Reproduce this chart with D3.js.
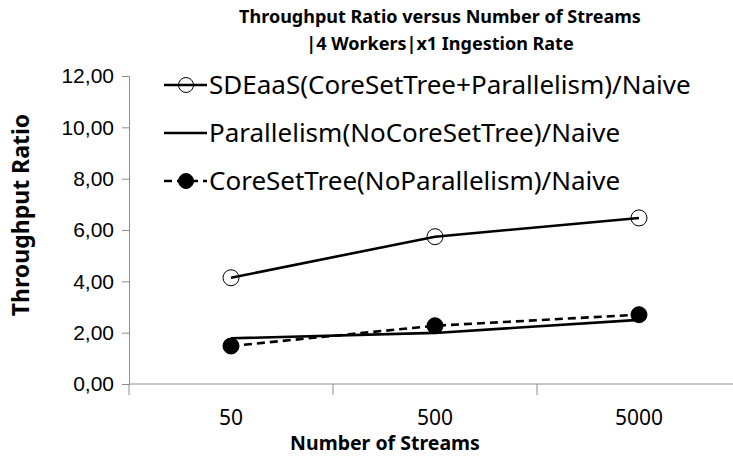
<!DOCTYPE html>
<html>
<head>
<meta charset="utf-8">
<script src="https://cdn.jsdelivr.net/npm/d3@7"></script>
<style>
  body { margin: 0; background: #fff; }
  svg { font-family: "Noto Sans", sans-serif; }
</style>
</head>
<body>
<svg></svg>
<script>
// chart values
const categories = ['50', '500', '5000'];
const sdeaas = [4.14, 5.74, 6.47];
const parallelism = [1.78, 1.99, 2.50];
const coreset = [1.48, 2.27, 2.70];
const yTicks = [0, 2, 4, 6, 8, 10, 12];
const seriesNames = ['SDEaaS(CoreSetTree+Parallelism)/Naive', 'Parallelism(NoCoreSetTree)/Naive', 'CoreSetTree(NoParallelism)/Naive'];

function Graph(){
    const width = 733;
    const height = 460;
    const left = 129, right = 741, top = 76, bottom = 384;

    let svg = d3.select('svg')
        .attr('width', width)
        .attr('height', height);

    let xScale = d3.scaleBand()
        .domain(categories)
        .range([left, right]);

    let yScale = d3.scaleLinear()
        .domain([0, 12])
        .range([bottom, top]);

    let fmt = d => d3.format('.2f')(d).replace('.', ',');

    // y axis
    let yAxis = d3.axisLeft(yScale).tickValues(yTicks).tickFormat(fmt).tickSizeOuter(0).tickSize(7).tickPadding(8);
    let gy = svg.append('g')
        .attr('transform', 'translate(' + left + ',0)')
        .call(yAxis);
    gy.select('.domain').attr('stroke', '#8c8c8c');
    gy.selectAll('.tick line').attr('stroke', '#8c8c8c');
    gy.selectAll('.tick text').attr('font-size', 21).attr('fill', '#000');

    // x axis with tick marks at band edges
    let gx = svg.append('g')
        .attr('transform', 'translate(0,' + bottom + ')');
    gx.append('line')
        .attr('x1', left).attr('x2', right)
        .attr('stroke', '#8c8c8c');
    gx.selectAll('.edge')
        .data(categories)
        .enter()
        .append('line')
        .attr('x1', d => xScale(d)).attr('x2', d => xScale(d))
        .attr('y1', 0).attr('y2', 11)
        .attr('stroke', '#8c8c8c');
    gx.selectAll('.lbl')
        .data(categories)
        .enter()
        .append('text')
        .attr('x', d => xScale(d) + xScale.bandwidth() / 2)
        .attr('y', 41)
        .attr('text-anchor', 'middle')
        .attr('font-size', 21)
        .text(d => d);

    const cx = d => xScale(d) + xScale.bandwidth() / 2;
    const series = [
        { vals: sdeaas, dash: null, fill: 'none' },
        { vals: parallelism, dash: null, fill: null },
        { vals: coreset, dash: '8,5', fill: '#000' }
    ];

    let line = d3.line()
        .x((d, i) => cx(categories[i]))
        .y(d => yScale(d));

    series.forEach(s => {
        svg.append('path')
            .datum(s.vals)
            .attr('d', line)
            .attr('fill', 'none')
            .attr('stroke', '#000')
            .attr('stroke-width', 2.6)
            .attr('stroke-dasharray', s.dash);
        if (s.fill) {
            svg.selectAll(null)
                .data(s.vals)
                .enter()
                .append('circle')
                .attr('cx', (d, i) => cx(categories[i]))
                .attr('cy', d => yScale(d))
                .attr('r', 8)
                .attr('fill', s.fill)
                .attr('stroke', '#000')
                .attr('stroke-width', 1);
        }
    });

    // legend
    let legend = svg.append('g');
    series.forEach((s, i) => {
        let y = 85 + i * 48;
        legend.append('line')
            .attr('x1', 164).attr('x2', 207)
            .attr('y1', y).attr('y2', y)
            .attr('stroke', '#000')
            .attr('stroke-width', 2.6)
            .attr('stroke-dasharray', s.dash);
        if (s.fill) {
            legend.append('circle')
                .attr('cx', 186).attr('cy', y).attr('r', 7.5)
                .attr('fill', s.fill).attr('stroke', '#000').attr('stroke-width', 1);
        }
        legend.append('text')
            .attr('x', 209).attr('y', y + 9)
            .attr('font-size', 26)
            .text(seriesNames[i]);
    });

    // titles
    svg.append('text')
        .attr('x', 440).attr('y', 23)
        .attr('text-anchor', 'middle')
        .attr('font-size', 18).attr('font-weight', 'bold')
        .text('Throughput Ratio versus Number of Streams');
    svg.append('text')
        .attr('x', 440).attr('y', 50)
        .attr('text-anchor', 'middle')
        .attr('font-size', 18).attr('font-weight', 'bold')
        .text('|4 Workers|x1 Ingestion Rate');

    svg.append('text')
        .attr('x', 385).attr('y', 450)
        .attr('text-anchor', 'middle')
        .attr('font-size', 19.5).attr('font-weight', 'bold')
        .text('Number of Streams');

    svg.append('text')
        .attr('transform', 'translate(29,215) rotate(-90)')
        .attr('text-anchor', 'middle')
        .attr('font-size', 23).attr('font-weight', 'bold')
        .text('Throughput Ratio');
}

Graph();
</script>
</body>
</html>
